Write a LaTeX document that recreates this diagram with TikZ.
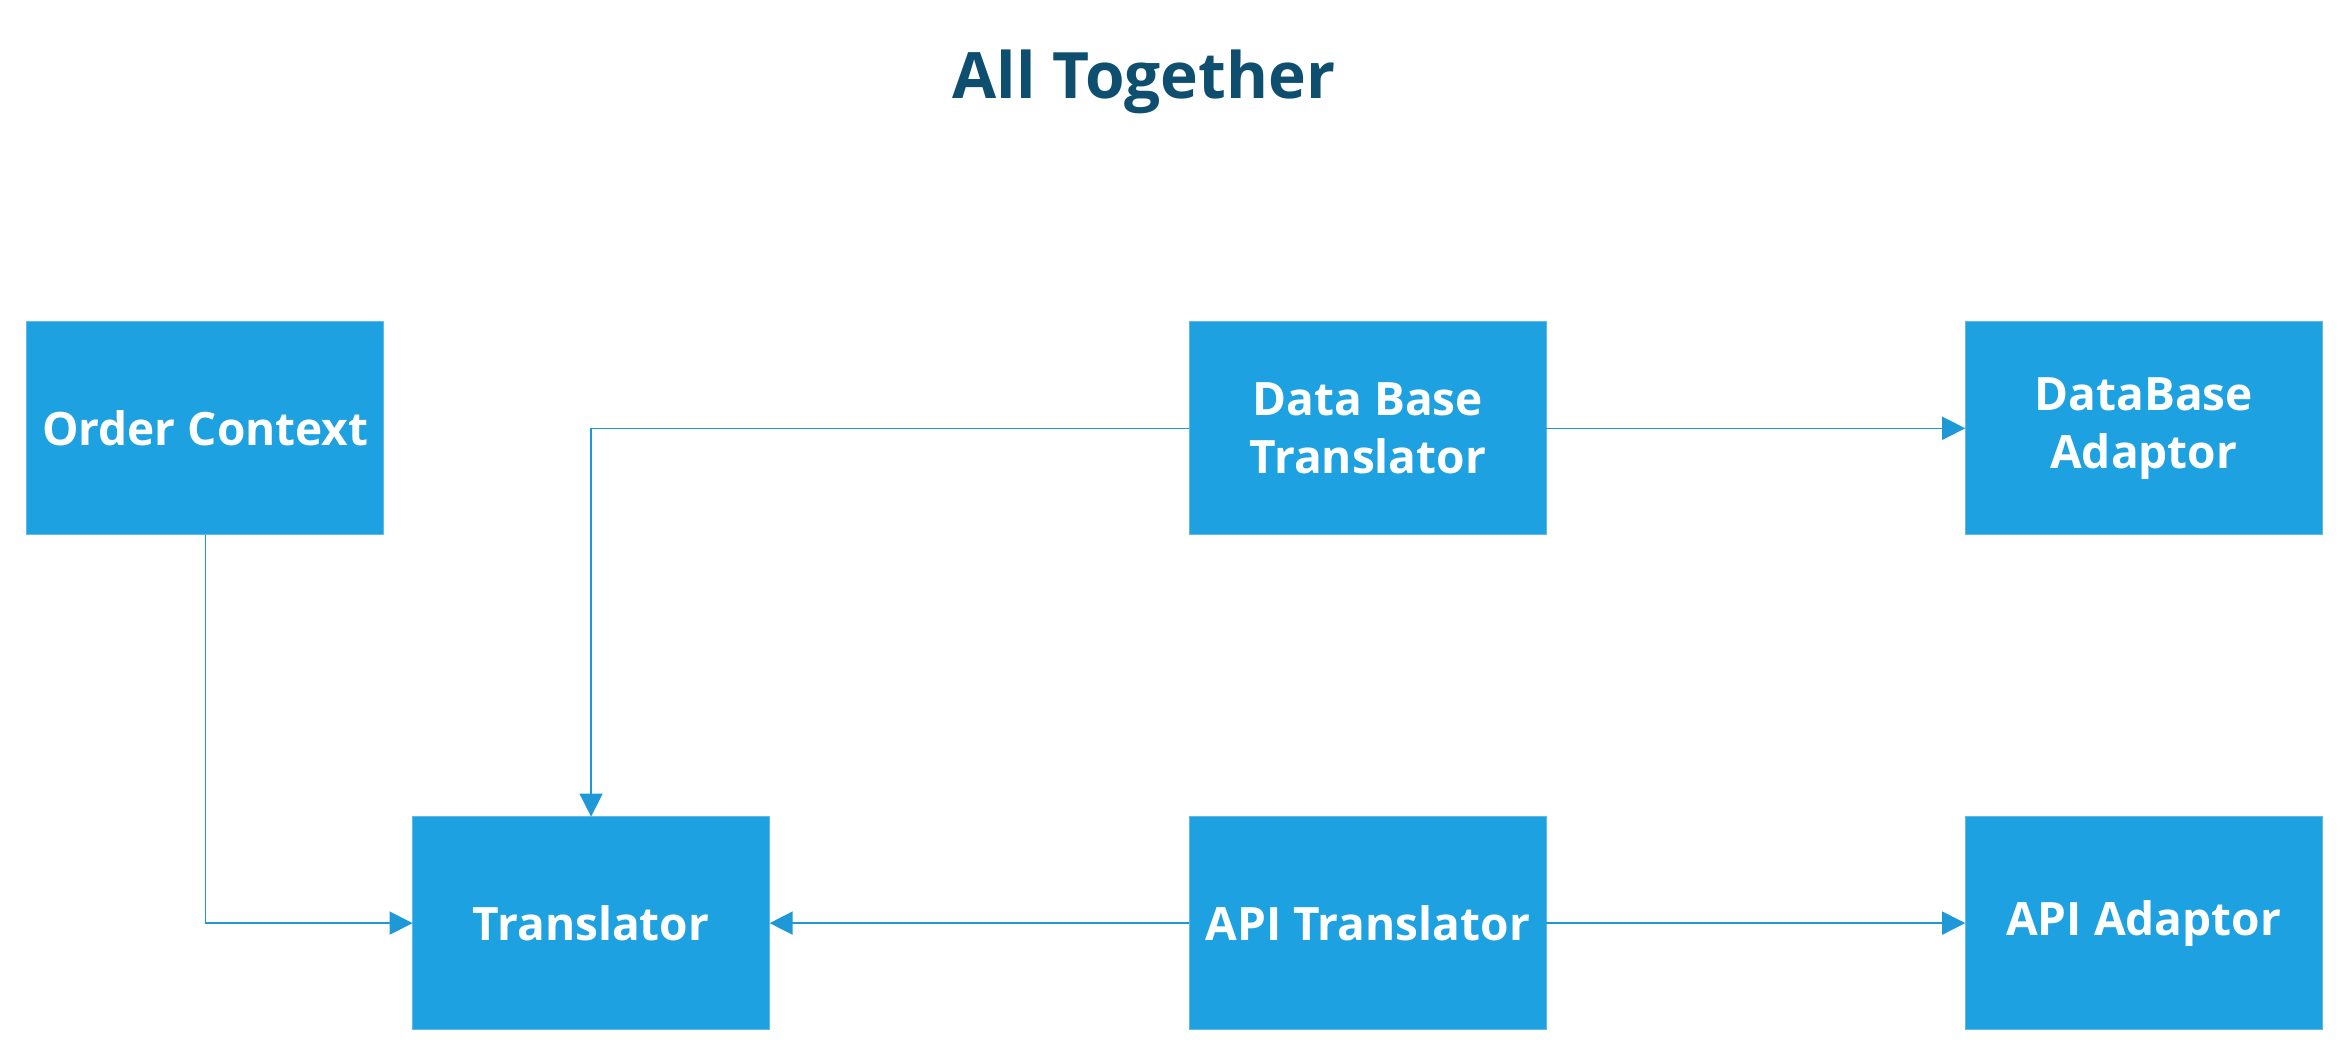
\documentclass[tikz,border=0pt]{standalone}
\usepackage{fontspec}
\setmainfont{Open Sans}
\usetikzlibrary{matrix,arrows.meta}

\definecolor{boxblue}{RGB}{29,161,224}
\definecolor{edgeblue}{RGB}{95,186,232}
\definecolor{lineblue}{RGB}{30,152,214}
\definecolor{titleblue}{RGB}{14,79,112}

\begin{document}
\begin{tikzpicture}[
		module/.style={
			fill=boxblue,
			draw=edgeblue,
			line width=0.4pt,
			text=white,
			font=\fontsize{23}{29}\selectfont\bfseries,
			minimum width=178.5pt,
			minimum height=106.5pt,
			inner sep=0pt,
			outer sep=0pt,
			anchor=center
		},
		net/.style={
			matrix of nodes,
			nodes={module},
			inner sep=0pt,
			column sep=14pt,
			row sep=140.5pt
		},
		title/.style={
			text=titleblue,
			font=\fontsize{32}{38}\selectfont\bfseries
		},
		>={Triangle[length=11.5pt,width=11.5pt]}
		]
		\useasboundingbox (0,0) rectangle (1173pt,-525pt);

		\node[title] (heading) at (572pt,-41pt) {All Together};

		\matrix[net, anchor=north west] (mat) at (13pt,-160.5pt)
		{
			Order Context &[0pt] &[195.5pt]
			\parbox{170pt}{\centering Data Base\\Translator} &[195pt]
			\parbox{170pt}{\centering DataBase\\Adaptor} \\
			&[0pt] Translator &[195.5pt] API Translator &[195pt] API Adaptor \\
		};

		% connectors
		\draw[->, lineblue, line width=0.8pt] (mat-1-1) |- (mat-2-2);
		\draw[->, lineblue, line width=0.8pt] (mat-1-3) -| (mat-2-2);
		\draw[->, lineblue, line width=0.8pt] (mat-1-3) -- (mat-1-4);
		\draw[->, lineblue, line width=0.8pt] (mat-2-3) -- (mat-2-2);
		\draw[->, lineblue, line width=0.8pt] (mat-2-3) -- (mat-2-4);

\end{tikzpicture}
\end{document}
